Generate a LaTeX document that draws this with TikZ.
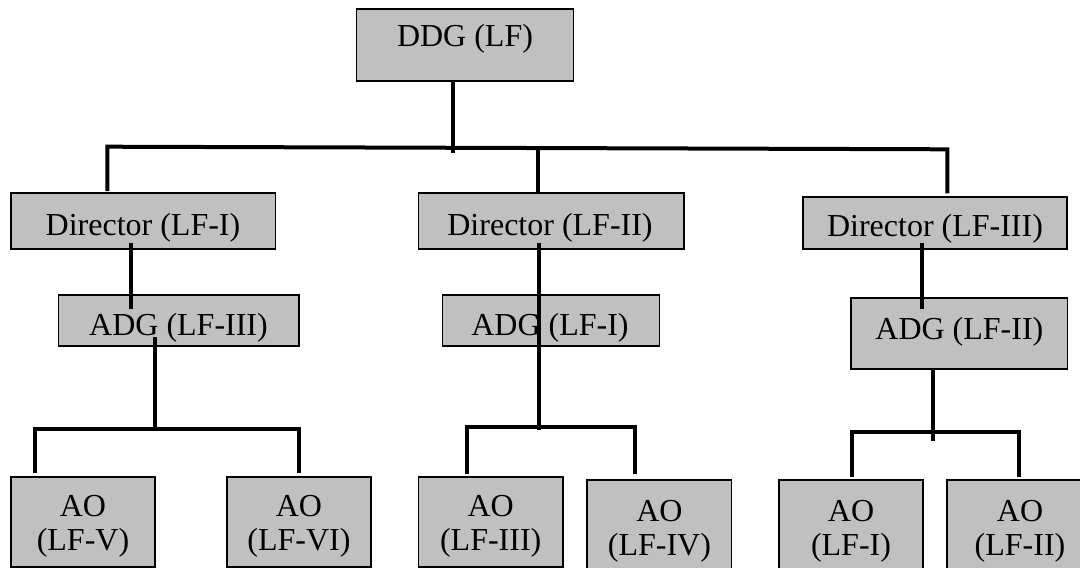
\documentclass[tikz,border=0pt]{standalone}
\usepackage{fontspec}
\setmainfont{Liberation Serif}
\usetikzlibrary{positioning,calc}
\definecolor{boxgray}{RGB}{192,192,192}

\begin{document}
\begin{tikzpicture}[x=1pt,y=-1pt,
		every node/.style={font=\fontsize{32}{33.5}\selectfont,inner sep=0pt,outer sep=0pt},
		orgbox/.style={draw,rectangle,anchor=north west,fill=boxgray,line width=1.8pt},
		conn/.style={line width=4pt}]
	\useasboundingbox (0,0) rectangle (1080,568);
	
	% Vertice
	\node[orgbox,minimum width=217pt,minimum height=72pt] (ddg) at (356.4,9) {};
	\node[anchor=base] (ddgt) at (465,46.7) {DDG (LF)};
	
	% Direttori
	\node[orgbox,minimum width=264.8pt,minimum height=56pt] (dir1) at (10.7,193.3) {};
	\node[anchor=base] (dir1t) at (143,235) {Director (LF-I)};
	\node[orgbox,minimum width=265.2pt,minimum height=56pt] (dir2) at (418.4,193.3) {};
	\node[anchor=base] (dir2t) at (550,235) {Director (LF-II)};
	\node[orgbox,minimum width=264.6pt,minimum height=52.6pt] (dir3) at (802.7,196.7) {};
	\node[anchor=base] (dir3t) at (935,236.7) {Director (LF-III)};
	
	% ADG
	\node[orgbox,minimum width=240.4pt,minimum height=50.7pt] (adg3) at (58.5,295) {};
	\node[anchor=base] (adg3t) at (178.5,335) {ADG (LF-III)};
	\node[orgbox,minimum width=217pt,minimum height=50.7pt] (adg1) at (442.5,295) {};
	\node[anchor=base] (adg1t) at (550,335) {ADG (LF-I)};
	\node[orgbox,minimum width=216.5pt,minimum height=71.6pt] (adg2) at (851,297.7) {};
	\node[anchor=base] (adg2t) at (959.4,339.3) {ADG (LF-II)};
	
	% AO
	\node[orgbox,minimum width=144.3pt,minimum height=90.3pt] (ao5) at (10.7,476.7) {};
	\node[anchor=north,align=center] (ao5t) at (83,495.7) {AO\\(LF-V)};
	\node[orgbox,minimum width=144.6pt,minimum height=90.3pt] (ao6) at (226.6,476.7) {};
	\node[anchor=north,align=center] (ao6t) at (298.9,495.7) {AO\\(LF-VI)};
	\node[orgbox,minimum width=144.6pt,minimum height=90.3pt] (ao3) at (418.4,476.7) {};
	\node[anchor=north,align=center] (ao3t) at (490.7,495.7) {AO\\(LF-III)};
	\node[orgbox,minimum width=144.3pt,minimum height=95pt] (ao4) at (587.2,480) {};
	\node[anchor=north,align=center] (ao4t) at (659.4,500.7) {AO\\(LF-IV)};
	\node[orgbox,minimum width=144.7pt,minimum height=95pt] (ao1) at (778.6,480) {};
	\node[anchor=north,align=center] (ao1t) at (851,500.7) {AO\\(LF-I)};
	\node[orgbox,minimum width=146pt,minimum height=95pt] (ao2) at (946.7,480) {};
	\node[anchor=north,align=center] (ao2t) at (1020,500.7) {AO\\(LF-II)};
	
	% Linee DDG - direttori
	\coordinate (stem0) at (452.8,152.7);
	\coordinate (busL) at (107.4,146.7);
	\coordinate (busM) at (538,148.2);
	\coordinate (busR) at (947.4,149.3);
	\draw[conn] (ddg.south -| stem0) -- (stem0);
	\draw[conn] ([yshift=2.3pt]busL |- dir1.north) -- (busL) -- (busR) -- ([yshift=3.4pt]busR |- dir3.north);
	\draw[conn] (busM) -- ([yshift=1.6pt]busM |- dir2.north);
	
	% Linee direttori - ADG
	\coordinate (s1) at (130.9,0);
	\coordinate (s2) at (539,0);
	\coordinate (s3) at (922.2,0);
	\draw[conn] ([yshift=6pt]s1 |- dir1.south) -- ([yshift=-14pt]s1 |- adg3.north);
	\draw[conn] ([yshift=6pt]s3 |- dir3.south) -- ([yshift=-11.6pt]s3 |- adg2.north);
	
	% Linee ADG - AO
	\coordinate (b3) at (155,428.7);
	\coordinate (b3L) at (35,428.7);
	\coordinate (b3R) at (299,428.7);
	\draw[conn] ([yshift=9pt]b3 |- adg3.south) -- (b3);
	\draw[conn] ([yshift=3.4pt]b3L |- ao5.north) -- (b3L) -- (b3R) -- ([yshift=3.4pt]b3R |- ao6.north);
	
	\coordinate (b1L) at (467.3,426.7);
	\coordinate (b1R) at (634.7,426.7);
	\draw[conn] ([yshift=6pt]s2 |- dir2.south) -- ([yshift=-3.3pt]s2 |- b1L);
	\draw[conn] ([yshift=2.4pt]b1L |- ao3.north) -- (b1L) -- (b1R) -- ([yshift=5.7pt]b1R |- ao4.north);
	
	\coordinate (s3b) at (932.6,441);
	\coordinate (b2L) at (851.6,432.3);
	\coordinate (b2R) at (1018.6,432.3);
	\draw[conn] (s3b |- adg2.south) -- (s3b);
	\draw[conn] ([yshift=3.3pt]b2L |- ao1.north) -- (b2L) -- (b2R) -- ([yshift=3.3pt]b2R |- ao2.north);
\end{tikzpicture}
\end{document}
